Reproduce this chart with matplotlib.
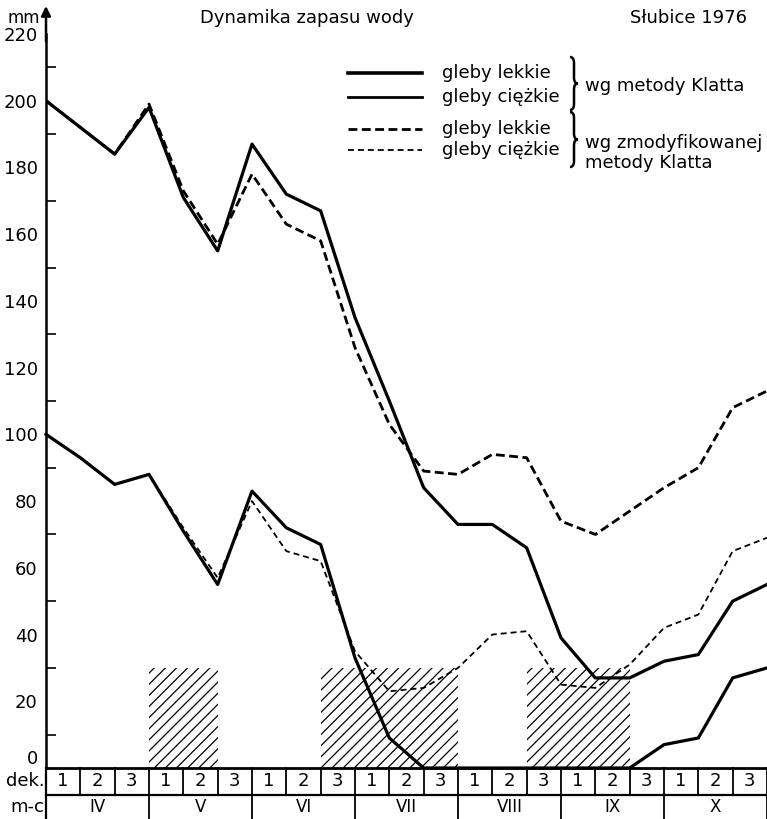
import numpy as np
import matplotlib
matplotlib.use("Agg")
import matplotlib.pyplot as plt
from matplotlib.lines import Line2D
from matplotlib.patches import PathPatch, Rectangle
from matplotlib.path import Path

# decade ends, IV-1 start .. X-3 end
decade = np.arange(22)

# Klatt method (solid) and modified Klatt method (dashed), mm of water
klatt_upper = [200, 192, 184, 198, 171, 155, 187, 172, 167, 135, 110, 84,
               73, 73, 66, 39, 27, 27, 32, 34, 50, 55]
mod_upper = [200, 192, 184, 199, 173, 157, 178, 163, 158, 126, 103, 89,
             88, 94, 93, 74, 70, 77, 84, 90, 108, 113]
klatt_lower = [100, 93, 85, 88, 71, 55, 83, 72, 67, 33, 9, 0,
               0, 0, 0, 0, 0, 0, 7, 9, 27, 30]
mod_lower = [100, 93, 85, 88, 72, 57, 80, 65, 62, 35, 23, 24,
             30, 40, 41, 25, 24, 31, 42, 46, 65, 69]

# dry periods (hatched), in decade units, up to 30 mm
dry_start = [3, 8, 14]
dry_end = [5, 12, 17]
dry_level = 30

months = ["IV", "V", "VI", "VII", "VIII", "IX", "X"]
dek_labels = ["1", "2", "3"]

W, H = 767, 819


def fx(px):
    return px / W


def fy(py):
    return 1 - py / H


plt.rcParams["hatch.linewidth"] = 0.9
plt.rcParams["font.family"] = ["DejaVu Sans"]

fig = plt.figure(figsize=(W / 100, H / 100), dpi=100)
ax = fig.add_axes([fx(46), fy(768), fx(767) - fx(46), fy(34) - fy(768)])
ax.set_xlim(0, 21)
ax.set_ylim(0, 220)

for s, e in zip(dry_start, dry_end):
    ax.add_patch(Rectangle((s, 0), e - s, dry_level, fill=False, lw=0,
                           hatch="///", edgecolor="black"))

ax.plot(decade, klatt_upper, color="black", lw=2.3)
ax.plot(decade, mod_upper, color="black", lw=2.0, ls=(0, (3.2, 1.6)))
ax.plot(decade, klatt_lower, color="black", lw=2.3, clip_on=False)
ax.plot(decade, mod_lower, color="black", lw=1.3, ls=(0, (3.3, 2.2)))

for side in ["top", "right", "bottom"]:
    ax.spines[side].set_visible(False)
ax.spines["left"].set_linewidth(1.8)
ax.set_xticks([])
ax.set_yticks(range(0, 221, 20))
ax.set_yticklabels([str(v) for v in range(0, 221, 20)], fontsize=13)
ax.set_yticks(range(10, 220, 20), minor=True)
ax.tick_params(axis="y", which="major", length=0, pad=6)
ax.tick_params(axis="y", which="minor", direction="in", length=7, width=1.2)
ax.yaxis.get_major_ticks()[0].label1.set_verticalalignment("bottom")

ax.annotate("", xy=(0, 1 + 28 / 734), xytext=(0, 0.99), xycoords="axes fraction",
            arrowprops=dict(arrowstyle="-|>", color="black", lw=1.8,
                            mutation_scale=14, shrinkA=0, shrinkB=0))

# titles
fig.text(fx(40), fy(18), "mm", fontsize=12, va="center", ha="right")
fig.text(fx(307), fy(18), "Dynamika zapasu wody", fontsize=13, va="center", ha="center")
fig.text(fx(688), fy(18), "Słubice 1976", fontsize=13, va="center", ha="center")

# legend
legend_y = [73, 97, 129, 150]
legend_lw = [2.6, 2.0, 2.0, 1.3]
legend_ls = ["-", "-", (0, (3.2, 1.6)), (0, (3.3, 2.2))]
legend_txt = ["gleby lekkie", "gleby ciężkie", "gleby lekkie", "gleby ciężkie"]
for y, lw, ls, t in zip(legend_y, legend_lw, legend_ls, legend_txt):
    fig.add_artist(Line2D([fx(348), fx(422)], [fy(y), fy(y)], color="black",
                          lw=lw, ls=ls, transform=fig.transFigure))
    fig.text(fx(442), fy(y), t, fontsize=13, va="center", ha="left")


def brace(x0, yt, yb, w=8):
    ym = (yt + yb) / 2
    r = 6
    xm = x0 + w / 2
    pts = [(x0, yt), (xm, yt), (xm, yt + r), (xm, ym - r), (xm, ym), (x0 + w, ym),
           (xm, ym), (xm, ym + r), (xm, yb - r), (xm, yb), (x0, yb)]
    codes = [Path.MOVETO, Path.CURVE3, Path.CURVE3, Path.LINETO, Path.CURVE3, Path.CURVE3,
             Path.CURVE3, Path.CURVE3, Path.LINETO, Path.CURVE3, Path.CURVE3]
    verts = [(fx(x), fy(y)) for x, y in pts]
    fig.add_artist(PathPatch(Path(verts, codes), fill=False, lw=1.8,
                             transform=fig.transFigure))


brace(570, 57, 110)
brace(570, 112, 167)
fig.text(fx(585), fy(86), "wg metody Klatta", fontsize=13, va="center", ha="left")
fig.text(fx(585), fy(143), "wg zmodyfikowanej", fontsize=13, va="center", ha="left")
fig.text(fx(585), fy(163), "metody Klatta", fontsize=13, va="center", ha="left")

# decade / month table under the axis
tab = fig.add_axes([0, 0, 1, fy(768)])
tab.set_xlim(-46 * 21 / 721, 21)
tab.set_ylim(0, 51)
tab.axis("off")
tab.plot([0, 21], [51, 51], color="black", lw=2.0, clip_on=False)
tab.plot([0, 21], [24, 24], color="black", lw=1.6, clip_on=False)
tab.plot([0, 0], [0, 51], color="black", lw=1.6, clip_on=False)
for i in range(1, 22):
    bottom = 0 if i % 3 == 0 else 24
    tab.plot([i, i], [bottom, 51], color="black", lw=1.3, clip_on=False)
for m, name in enumerate(months):
    for d, lab in enumerate(dek_labels):
        tab.text(3 * m + d + 0.5, 37.5, lab, fontsize=13, ha="center", va="center")
    tab.text(3 * m + 1.5, 12, name, fontsize=12, ha="center", va="center")
tab.text(-0.05, 37.5, "dek.", fontsize=13, ha="right", va="center")
tab.text(-0.05, 12, "m-c", fontsize=13, ha="right", va="center")

fig.savefig("out.png", dpi=100)
